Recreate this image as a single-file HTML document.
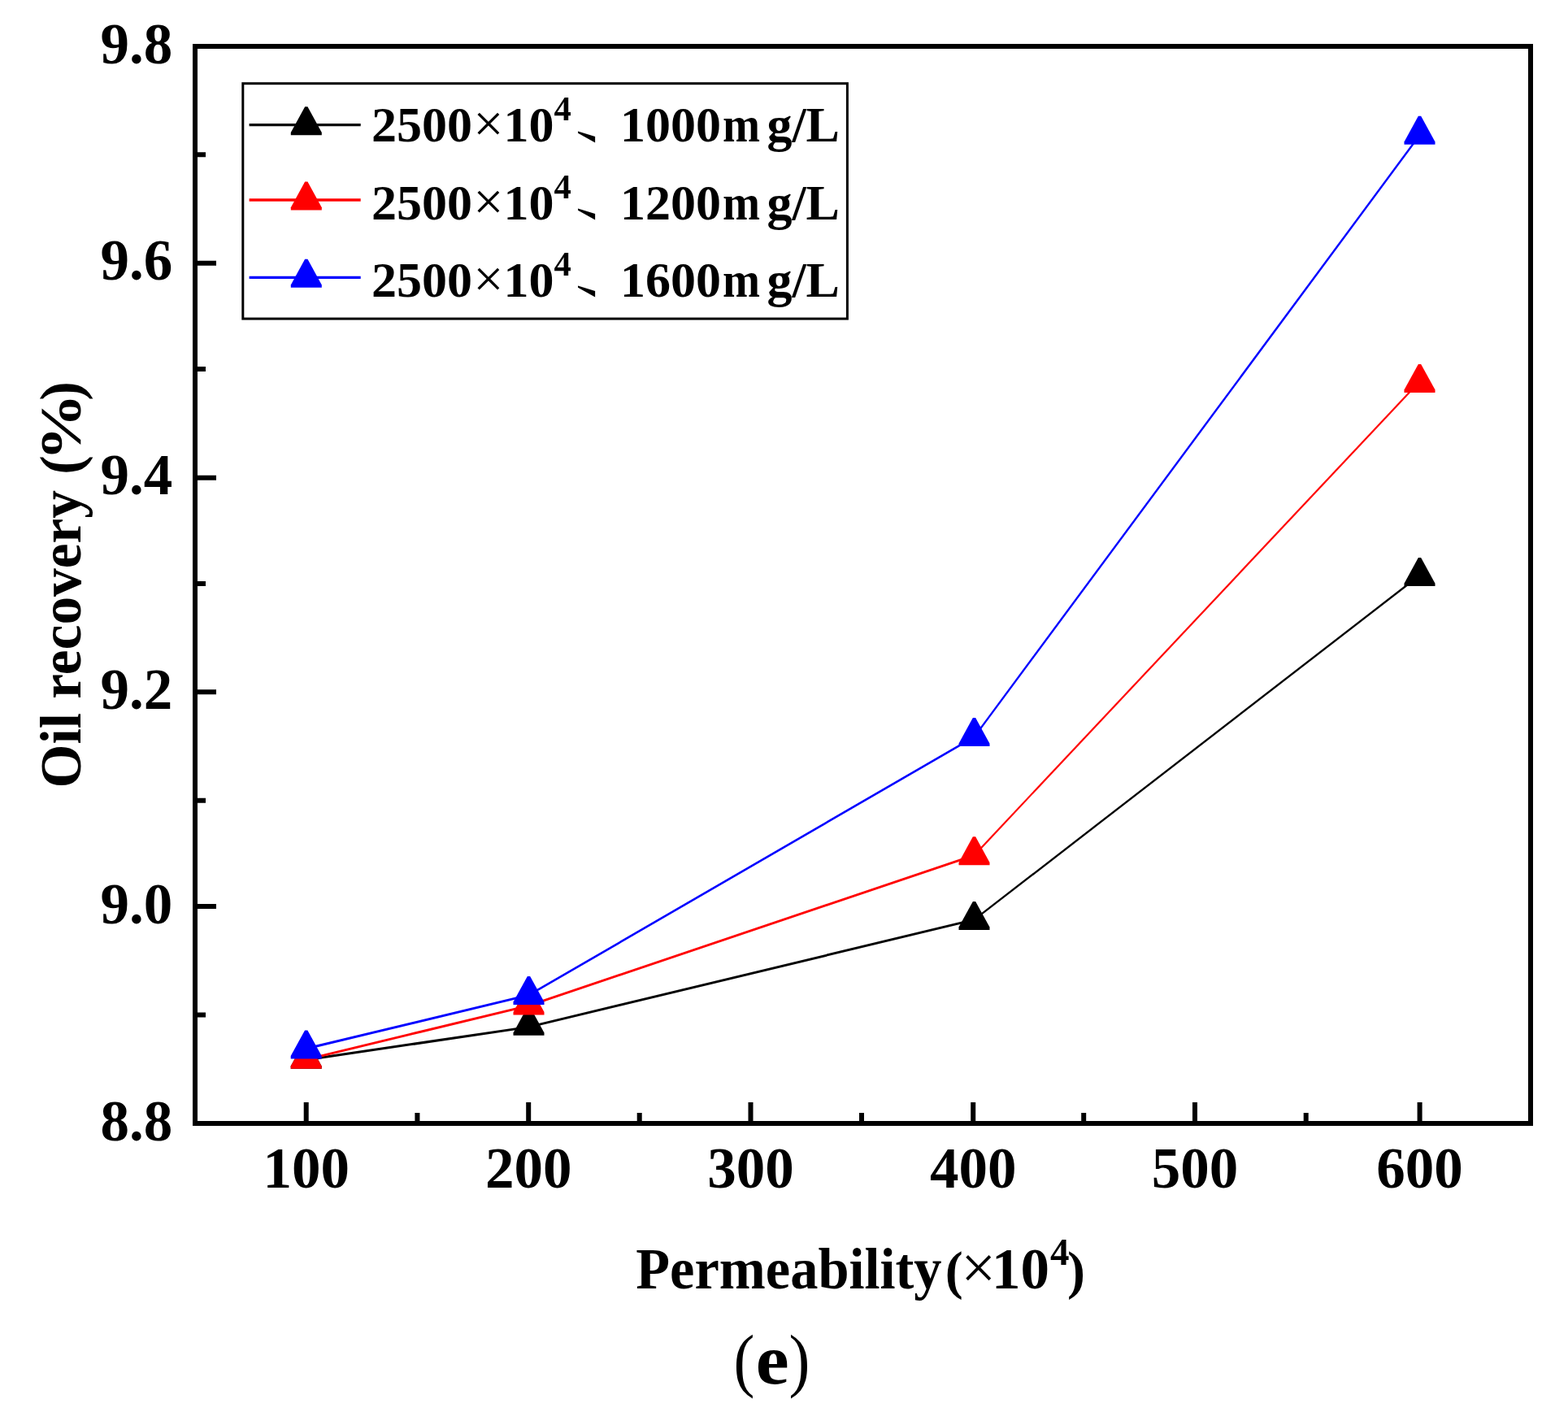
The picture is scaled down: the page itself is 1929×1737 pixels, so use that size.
<!DOCTYPE html>
<html><head><meta charset="utf-8"><title>Oil recovery vs Permeability</title>
<style>html,body{margin:0;padding:0;background:#fff;width:1929px;height:1737px;overflow:hidden}svg{display:block}</style>
</head><body>
<svg width="1929" height="1737" viewBox="0 0 1929 1737" font-family='"Liberation Serif", "Times New Roman", "Noto Serif CJK SC", serif' fill="#000"><rect x="0" y="0" width="1929" height="1737" fill="#fff"/>
<line x1="376.7" y1="1303.7" x2="650.5" y2="1263.4" stroke="#000000" stroke-width="2.97"/>
<line x1="650.5" y1="1263.4" x2="1198.5" y2="1131.4" stroke="#000000" stroke-width="2.92"/>
<line x1="1198.5" y1="1131.4" x2="1746.5" y2="707.8" stroke="#000000" stroke-width="2.37"/>
<polygon points="375.05,1279.80 378.35,1279.80 395.70,1311.50 395.70,1314.80 357.70,1314.80 357.70,1311.50" fill="#000000"/>
<polygon points="648.85,1238.80 652.15,1238.80 669.50,1270.50 669.50,1273.80 631.50,1273.80 631.50,1270.50" fill="#000000"/>
<polygon points="1196.85,1108.90 1200.15,1108.90 1217.50,1140.60 1217.50,1143.90 1179.50,1143.90 1179.50,1140.60" fill="#000000"/>
<polygon points="1744.85,686.10 1748.15,686.10 1765.50,717.80 1765.50,721.10 1727.50,721.10 1727.50,717.80" fill="#000000"/>
<line x1="376.7" y1="1303.4" x2="650.5" y2="1237.1" stroke="#ff0000" stroke-width="2.92"/>
<line x1="650.5" y1="1237.1" x2="1198.5" y2="1052.2" stroke="#ff0000" stroke-width="2.84"/>
<line x1="1198.5" y1="1052.2" x2="1746.5" y2="469.3" stroke="#ff0000" stroke-width="2.19"/>
<polygon points="375.05,1279.80 378.35,1279.80 395.70,1311.50 395.70,1314.80 357.70,1314.80 357.70,1311.50" fill="#ff0000"/>
<polygon points="648.85,1213.40 652.15,1213.40 669.50,1245.10 669.50,1248.40 631.50,1248.40 631.50,1245.10" fill="#ff0000"/>
<polygon points="1196.85,1029.20 1200.15,1029.20 1217.50,1060.90 1217.50,1064.20 1179.50,1064.20 1179.50,1060.90" fill="#ff0000"/>
<polygon points="1744.85,447.90 1748.15,447.90 1765.50,479.60 1765.50,482.90 1727.50,482.90 1727.50,479.60" fill="#ff0000"/>
<line x1="376.7" y1="1290.0" x2="650.5" y2="1224.2" stroke="#0000ff" stroke-width="2.92"/>
<line x1="650.5" y1="1224.2" x2="1198.5" y2="906.6" stroke="#0000ff" stroke-width="2.60"/>
<line x1="1198.5" y1="906.6" x2="1746.5" y2="166.3" stroke="#0000ff" stroke-width="2.41"/>
<polygon points="375.05,1267.40 378.35,1267.40 395.70,1299.10 395.70,1302.40 357.70,1302.40 357.70,1299.10" fill="#0000ff"/>
<polygon points="648.85,1200.90 652.15,1200.90 669.50,1232.60 669.50,1235.90 631.50,1235.90 631.50,1232.60" fill="#0000ff"/>
<polygon points="1196.85,883.00 1200.15,883.00 1217.50,914.70 1217.50,918.00 1179.50,918.00 1179.50,914.70" fill="#0000ff"/>
<polygon points="1744.85,142.70 1748.15,142.70 1765.50,174.40 1765.50,177.70 1727.50,177.70 1727.50,174.40" fill="#0000ff"/>
<path d="M376.7,1382 V1356.0 M650.2,1382 V1356.0 M923.5,1382 V1356.0 M1197.2,1382 V1356.0 M1470.0,1382 V1356.0 M1746.6,1382 V1356.0 M513.4,1382 V1369.0 M786.7,1382 V1369.0 M1060.0,1382 V1369.0 M1333.2,1382 V1369.0 M1606.7,1382 V1369.0 M240,323.7 H266.0 M240,587.7 H266.0 M240,851.3 H266.0 M240,1115.0 H266.0 M240,190.3 H253.0 M240,454.0 H253.0 M240,718.0 H253.0 M240,984.8 H253.0 M240,1248.6 H253.0" stroke="#000" stroke-width="6" fill="none"/>
<rect x="240" y="57" width="1643" height="1325" fill="none" stroke="#000" stroke-width="6"/>
<text x="376.7" y="1460.5" text-anchor="middle" font-size="71" font-weight="bold">100</text>
<text x="650.2" y="1460.5" text-anchor="middle" font-size="71" font-weight="bold">200</text>
<text x="923.5" y="1460.5" text-anchor="middle" font-size="71" font-weight="bold">300</text>
<text x="1197.2" y="1460.5" text-anchor="middle" font-size="71" font-weight="bold">400</text>
<text x="1470.0" y="1460.5" text-anchor="middle" font-size="71" font-weight="bold">500</text>
<text x="1746.6" y="1460.5" text-anchor="middle" font-size="71" font-weight="bold">600</text>
<text x="212.3" y="344.2" text-anchor="end" font-size="71" font-weight="bold">9.6</text>
<text x="212.3" y="608.2" text-anchor="end" font-size="71" font-weight="bold">9.4</text>
<text x="212.3" y="871.8" text-anchor="end" font-size="71" font-weight="bold">9.2</text>
<text x="212.3" y="1135.5" text-anchor="end" font-size="71" font-weight="bold">9.0</text>
<text x="212.3" y="1402.5" text-anchor="end" font-size="71" font-weight="bold">8.8</text>
<text x="212.3" y="77.5" text-anchor="end" font-size="71" font-weight="bold">9.8</text>
<rect x="298.8" y="102.7" width="743.6" height="289.4" fill="none" stroke="#000" stroke-width="3"/>
<line x1="306.6" y1="153.7" x2="443.7" y2="153.7" stroke="#000000" stroke-width="3.3"/>
<polygon points="375.15,131.20 378.45,131.20 395.80,162.90 395.80,166.20 357.80,166.20 357.80,162.90" fill="#000000"/>
<text y="174.2" font-size="62" font-weight="bold"><tspan x="457">2500</tspan><tspan x="582.3" font-size="66" font-weight="normal">×</tspan><tspan x="619.6">10</tspan><tspan x="681.4" dy="-25.8" font-size="42.5">4</tspan><tspan x="762.9" dy="25.8">1000</tspan><tspan x="889" textLength="46" lengthAdjust="spacingAndGlyphs">m</tspan><tspan x="943.4">g/L</tspan></text>
<text transform="translate(705.3,165.55) scale(1.354,1)" font-size="77.5" font-family='"Liberation Serif", "NanumGothic", "Noto Sans CJK KR", sans-serif'>、</text>
<line x1="306.6" y1="246.0" x2="443.7" y2="246.0" stroke="#ff0000" stroke-width="3.3"/>
<polygon points="375.15,223.50 378.45,223.50 395.80,255.20 395.80,258.50 357.80,258.50 357.80,255.20" fill="#ff0000"/>
<text y="269.5" font-size="62" font-weight="bold"><tspan x="457">2500</tspan><tspan x="582.3" font-size="66" font-weight="normal">×</tspan><tspan x="619.6">10</tspan><tspan x="681.4" dy="-25.8" font-size="42.5">4</tspan><tspan x="762.9" dy="25.8">1200</tspan><tspan x="889" textLength="46" lengthAdjust="spacingAndGlyphs">m</tspan><tspan x="943.4">g/L</tspan></text>
<text transform="translate(705.3,260.85) scale(1.354,1)" font-size="77.5" font-family='"Liberation Serif", "NanumGothic", "Noto Sans CJK KR", sans-serif'>、</text>
<line x1="306.6" y1="341.3" x2="443.7" y2="341.3" stroke="#0000ff" stroke-width="3.3"/>
<polygon points="375.15,318.80 378.45,318.80 395.80,350.50 395.80,353.80 357.80,353.80 357.80,350.50" fill="#0000ff"/>
<text y="364.6" font-size="62" font-weight="bold"><tspan x="457">2500</tspan><tspan x="582.3" font-size="66" font-weight="normal">×</tspan><tspan x="619.6">10</tspan><tspan x="681.4" dy="-25.8" font-size="42.5">4</tspan><tspan x="762.9" dy="25.8">1600</tspan><tspan x="889" textLength="46" lengthAdjust="spacingAndGlyphs">m</tspan><tspan x="943.4">g/L</tspan></text>
<text transform="translate(705.3,355.95) scale(1.354,1)" font-size="77.5" font-family='"Liberation Serif", "NanumGothic", "Noto Sans CJK KR", sans-serif'>、</text>
<text transform="translate(98.5,969.4) rotate(-90)" font-size="71" font-weight="bold"><tspan x="0" textLength="366.3" lengthAdjust="spacingAndGlyphs">Oil recovery</tspan><tspan x="385.6">(</tspan><tspan x="402.3" textLength="83.1" lengthAdjust="spacingAndGlyphs">%</tspan><tspan x="476.7">)</tspan></text>
<text y="1584.8" font-size="71" font-weight="bold"><tspan x="782.3" textLength="376.2" lengthAdjust="spacingAndGlyphs">Permeability</tspan><tspan x="1162.7" font-size="66">(</tspan><tspan x="1182.3" font-size="76" font-weight="normal">×</tspan><tspan x="1220">10</tspan><tspan x="1292" y="1556" font-size="47">4</tspan><tspan x="1313" y="1584.8" font-size="66">)</tspan></text>
<text y="1701.7" font-size="87"><tspan x="902.6" textLength="25.9" lengthAdjust="spacingAndGlyphs">(</tspan><tspan x="929.65" font-weight="bold" textLength="40.9" lengthAdjust="spacingAndGlyphs">e</tspan><tspan x="970.4" textLength="25.9" lengthAdjust="spacingAndGlyphs">)</tspan></text></svg>
</body></html>
